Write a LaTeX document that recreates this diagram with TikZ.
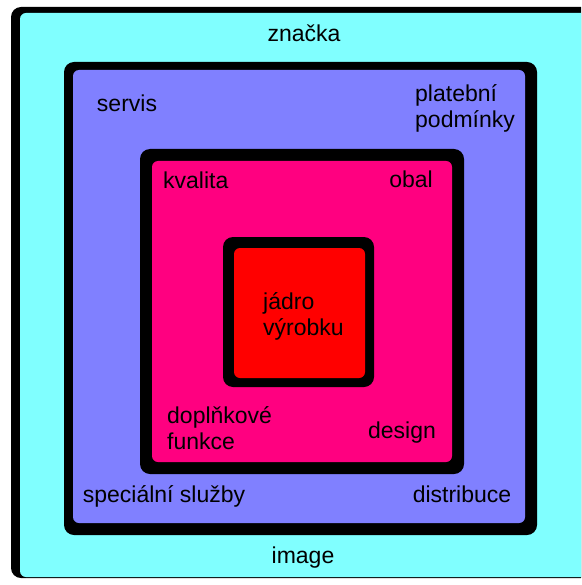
\documentclass[tikz,border=0pt]{standalone}
\usepackage{fontspec}
\setmainfont{Liberation Sans}
\usepackage{tikz}
\usetikzlibrary{positioning}
\usepackage{xcolor}
\definecolor{vrstvaA}{HTML}{80FFFF}
\definecolor{vrstvaB}{HTML}{8080FF}
\definecolor{vrstvaC}{HTML}{FF0080}
\definecolor{vrstvaD}{HTML}{FF0000}

\begin{document}
\begin{tikzpicture} [x=1pt, y=-1pt,
		ramecek/.style={fill=black, rounded corners=10pt},
		plocha/.style={rounded corners=6pt},
		popis/.style={font=\fontsize{23}{26}\selectfont, inner sep=0pt, align=left}]
										\useasboundingbox (0, 0) rectangle (581, 585);
										\clip (0, 0) rectangle (581, 585);
										\fill [white] (0, 0) rectangle (581, 585);
										\fill [ramecek] (11, 7) rectangle (600, 578);
										\fill [plocha, vrstvaA] (20, 13) rectangle (600, 577);
										\fill [ramecek] (64, 62) rectangle (537, 535);
										\fill [plocha, vrstvaB] (73, 70) rectangle (525, 523);
										\fill [ramecek] (140, 149) rectangle (464, 474);
										\fill [plocha, vrstvaC] (152, 161) rectangle (452, 462);
										\fill [ramecek] (223, 237) rectangle (374, 387);
										\fill [plocha, vrstvaD] (234, 248) rectangle (365, 378);
										\node [popis, anchor=base] (znacka) at (304, 42) {značka};
										\node [popis, anchor=base] (image) at (303, 563) {image};
										\node [popis, anchor=base] (servis) at (127, 112) {servis};
										\node [popis, anchor=west] (platebni) at (415, 108) {platební\\podmínky};
										\node [popis, anchor=base] (sluzby) at (164, 502) {speciální služby};
										\node [popis, anchor=base] (distribuce) at (462, 502) {distribuce};
										\node [popis, anchor=base west] (kvalita) at (163, 189) {kvalita};
										\node [popis, anchor=base] (obal) at (411, 188) {obal};
										\node [popis, anchor=west] (doplnky) at (167, 428) {doplňkové\\funkce};
										\node [popis, anchor=base] (design) at (402, 438) {design};
										\node [popis, anchor=west] (jadro) at (263, 316) {jádro\\výrobku};
									\end{tikzpicture}
\end{document}
